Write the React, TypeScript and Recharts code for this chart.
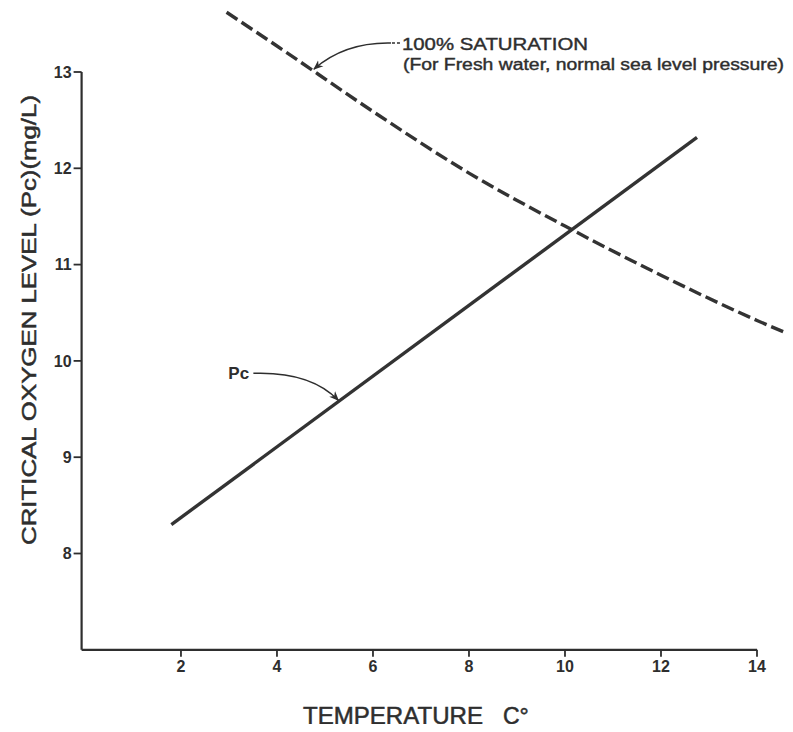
import { LineChart, Line, XAxis, YAxis, ReferenceLine, ReferenceDot } from 'recharts';

// Pc (critical oxygen level) line
const pcTemp = [1.8, 12.75];
const pcLevel = [8.3, 12.32];

// 100% saturation curve (fresh water, sea level)
const satTemp = [2.95, 4, 6, 8, 10, 12, 14, 14.75];
const satLevel = [13.62, 13.27, 12.59, 11.95, 11.4, 10.89, 10.42, 10.26];

const xTicks = [2, 4, 6, 8, 10, 12, 14];
const yTicks = [8, 9, 10, 11, 12, 13];

const pcData = pcTemp.map((t, i) => ({ temp: t, level: pcLevel[i] }));
const satData = satTemp.map((t, i) => ({ temp: t, level: satLevel[i] }));

const INK = '#2e2e2e';
const FONT = '"Liberation Sans", Arial, sans-serif';
const X0 = -0.07; // where the hand-drawn y axis sits

function ArrowDefs() {
  return (
    <defs>
      <marker id="arrowHead" viewBox="0 0 10 10" refX="9" refY="5" markerWidth="10" markerHeight="10" orient="auto" markerUnits="userSpaceOnUse">
        <path d="M0,1 L10,5 L0,9 L3,5 Z" fill={INK} />
      </marker>
    </defs>
  );
}

// leader + label for the Pc line, anchored at the arrow tip
function PcNote(props: any) {
  const { cx, cy } = props;
  return (
    <g>
      <path d={`M${cx - 86},${cy - 28} Q${cx - 29},${cy - 30} ${cx - 1},${cy - 1}`} fill="none" stroke={INK} strokeWidth={1.5} markerEnd="url(#arrowHead)" />
      <text x={cx - 111} y={cy - 22} fontSize={17} fontWeight="bold" fill={INK} fontFamily={FONT}>Pc</text>
    </g>
  );
}

// leader + label for the saturation curve
function SatNote(props: any) {
  const { cx, cy } = props;
  return (
    <g>
      <path d={`M${cx + 78},${cy - 27} Q${cx + 32},${cy - 28} ${cx + 1},${cy - 1}`} fill="none" stroke={INK} strokeWidth={1.5} markerEnd="url(#arrowHead)" />
      <path d={`M${cx + 79},${cy - 27} L${cx + 88},${cy - 27}`} stroke={INK} strokeWidth={1.5} strokeDasharray="3 2" />
      <text x={cx + 89} y={cy - 20} fontSize={17} fill={INK} stroke={INK} strokeWidth={0.4} fontFamily={FONT} textLength={186} lengthAdjust="spacingAndGlyphs">100% SATURATION</text>
      <text x={cx + 90} y={cy} fontSize={16} fill={INK} stroke={INK} strokeWidth={0.4} fontFamily={FONT} textLength={381} lengthAdjust="spacingAndGlyphs">(For Fresh water, normal sea level pressure)</text>
    </g>
  );
}

export default function App() {
  return (
    <div style={{ fontFamily: FONT, background: '#fff', height: 716 }}>
      <LineChart width={785} height={724} margin={{ top: 1.4, right: 0, left: 33.6, bottom: 52.2 }}>
        <ArrowDefs />
        <XAxis
          type="number"
          dataKey="temp"
          domain={[X0, 14.75]}
          ticks={xTicks}
          axisLine={false}
          tickLine={{ stroke: INK, strokeWidth: 1.8 }}
          tickSize={7}
          tickMargin={4}
          height={30}
          tick={{ fill: INK, fontSize: 16, fontWeight: 'bold', fontFamily: FONT }}
        />
        <YAxis
          type="number"
          dataKey="level"
          domain={[7, 13.65]}
          ticks={yTicks}
          axisLine={false}
          tickLine={{ stroke: INK, strokeWidth: 1.8 }}
          tickSize={8}
          tickMargin={2}
          width={40}
          tick={{ fill: INK, fontSize: 16, fontWeight: 'bold', fontFamily: FONT }}
        />
        <ReferenceLine segment={[{ x: X0, y: 7 }, { x: X0, y: 13.0 }]} stroke={INK} strokeWidth={2.2} />
        <ReferenceLine segment={[{ x: X0, y: 7 }, { x: 14, y: 7 }]} stroke={INK} strokeWidth={2.2} />
        <Line
          data={satData}
          dataKey="level"
          type="monotone"
          stroke="#333"
          strokeWidth={3.4}
          strokeDasharray="13 5"
          dot={false}
          isAnimationActive={false}
        />
        <Line
          data={pcData}
          dataKey="level"
          type="linear"
          stroke="#333"
          strokeWidth={3.4}
          dot={false}
          isAnimationActive={false}
        />
        <ReferenceDot x={5.3} y={9.58} shape={PcNote} />
        <ReferenceDot x={4.75} y={13.02} shape={SatNote} />
        <text
          transform="translate(28 312) rotate(-90)"
          textAnchor="middle"
          fontSize={21}
          fill={INK}
          stroke={INK}
          strokeWidth={0.5}
          fontFamily={FONT}
          textLength={450}
          lengthAdjust="spacingAndGlyphs"
        >
          CRITICAL OXYGEN LEVEL (Pc)(mg/L)
        </text>
        <text x={295} y={716} fontSize={23} fill={INK} stroke={INK} strokeWidth={0.5} fontFamily={FONT} textLength={180} lengthAdjust="spacingAndGlyphs">
          TEMPERATURE
        </text>
        <text x={495} y={716} fontSize={23} fill={INK} stroke={INK} strokeWidth={0.5} fontFamily={FONT}>
          C°
        </text>
      </LineChart>
    </div>
  );
}
